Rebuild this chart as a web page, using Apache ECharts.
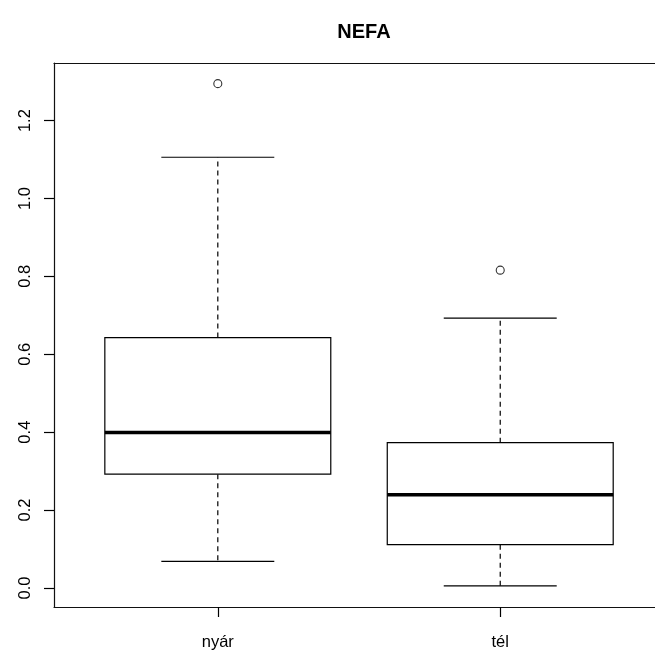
<!DOCTYPE html>
<html>
<head>
<meta charset="utf-8">
<title>NEFA</title>
<script src="https://cdn.jsdelivr.net/npm/echarts@6/dist/echarts.min.js"></script>
<style>
  html, body { margin: 0; padding: 0; background: #fff; }
  #chart { width: 655px; height: 653px; }
</style>
</head>
<body>
<div id="chart"></div>
<script>
// Box-and-whisker summary of NEFA by season
const categories = ['nyár', 'tél'];
const positions = [1, 2];
const lowerWhisker = [0.068, 0.005];
const quartile1 = [0.292, 0.111];
const medians = [0.399, 0.239];
const quartile3 = [0.643, 0.373];
const upperWhisker = [1.106, 0.693];
const outlierPos = [1, 2];
const outlierVal = [1.295, 0.816];
const yTicks = [0, 0.2, 0.4, 0.6, 0.8, 1.0, 1.2];

const boxData = positions.map((p, i) => [p, lowerWhisker[i], quartile1[i], medians[i], quartile3[i], upperWhisker[i]]);
const outlierData = outlierPos.map((p, i) => [p, outlierVal[i]]);

const FONT = 'Liberation Sans, Arial, sans-serif';
const INK = '#000';

// The plotting region runs past the right edge of the canvas, so the x range
// is cut where the canvas ends (full range would be 0.42 .. 2.58).
const X_MIN = 0.42;
const X_MAX = 2.548;

function renderBox(params, api) {
  const x = api.value(0);
  const lo = api.coord([x, api.value(1)]);
  const q1 = api.coord([x, api.value(2)]);
  const md = api.coord([x, api.value(3)]);
  const q3 = api.coord([x, api.value(4)]);
  const hi = api.coord([x, api.value(5)]);
  const cx = lo[0];
  const half = api.size([0.8, 0])[0] / 2;
  const capHalf = half / 2;
  const thin = { stroke: INK, lineWidth: 1.2, fill: null };
  const dashed = { stroke: INK, lineWidth: 1.2, lineDash: [5, 4] };
  return {
    type: 'group',
    children: [
      { type: 'line', shape: { x1: cx, y1: q3[1], x2: cx, y2: hi[1] }, style: dashed },
      { type: 'line', shape: { x1: cx, y1: q1[1], x2: cx, y2: lo[1] }, style: dashed },
      { type: 'line', shape: { x1: cx - capHalf, y1: hi[1], x2: cx + capHalf, y2: hi[1] }, style: thin },
      { type: 'line', shape: { x1: cx - capHalf, y1: lo[1], x2: cx + capHalf, y2: lo[1] }, style: thin },
      { type: 'rect', shape: { x: cx - half, y: q3[1], width: half * 2, height: q1[1] - q3[1] },
        style: { stroke: INK, lineWidth: 1.2, fill: '#fff' } },
      { type: 'line', shape: { x1: cx - half, y1: md[1], x2: cx + half, y2: md[1] },
        style: { stroke: INK, lineWidth: 3.5 } }
    ]
  };
}

const frameLine = { show: true, onZero: false, lineStyle: { color: '#111', width: 1.2 } };

const chart = echarts.init(document.getElementById('chart'), null, { renderer: 'canvas' });
chart.setOption({
  animation: false,
  backgroundColor: '#fff',
  title: {
    text: 'NEFA',
    left: 359,
    top: 17,
    textAlign: 'center',
    textStyle: { fontFamily: FONT, fontWeight: 'bold', fontSize: 20, color: INK }
  },
  grid: { left: 54, right: 0, top: 63, bottom: 46, show: false },
  xAxis: [
    {
      type: 'value',
      position: 'bottom',
      min: X_MIN,
      max: X_MAX,
      axisLine: frameLine,
      splitLine: { show: false },
      axisTick: { show: true, length: 10, customValues: positions, lineStyle: { color: INK, width: 1.2 } },
      axisLabel: {
        customValues: positions,
        margin: 27,
        fontFamily: FONT, fontSize: 16.5, color: INK,
        formatter: v => categories[positions.indexOf(v)] ?? ''
      }
    },
    {
      // top edge of the plot frame
      type: 'value',
      position: 'top',
      min: X_MIN,
      max: X_MAX,
      axisLine: frameLine,
      axisTick: { show: false },
      axisLabel: { show: false },
      splitLine: { show: false }
    }
  ],
  yAxis: {
    type: 'value',
    min: -0.049,
    max: 1.348,
    axisLine: frameLine,
    splitLine: { show: false },
    axisTick: { show: true, length: 10, customValues: yTicks, lineStyle: { color: INK, width: 1.2 } },
    axisLabel: {
      customValues: yTicks,
      rotate: 90,
      margin: 20,
      fontFamily: FONT, fontSize: 16.5, color: INK,
      formatter: v => v.toFixed(1)
    }
  },
  series: [
    {
      type: 'custom',
      renderItem: renderBox,
      data: boxData,
      encode: { x: 0, y: [1, 2, 3, 4, 5] },
      z: 2
    },
    {
      type: 'scatter',
      data: outlierData,
      symbol: 'circle',
      symbolSize: 8,
      itemStyle: { color: '#fff', borderColor: INK, borderWidth: 1.1 },
      z: 3
    }
  ]
});
</script>
</body>
</html>
